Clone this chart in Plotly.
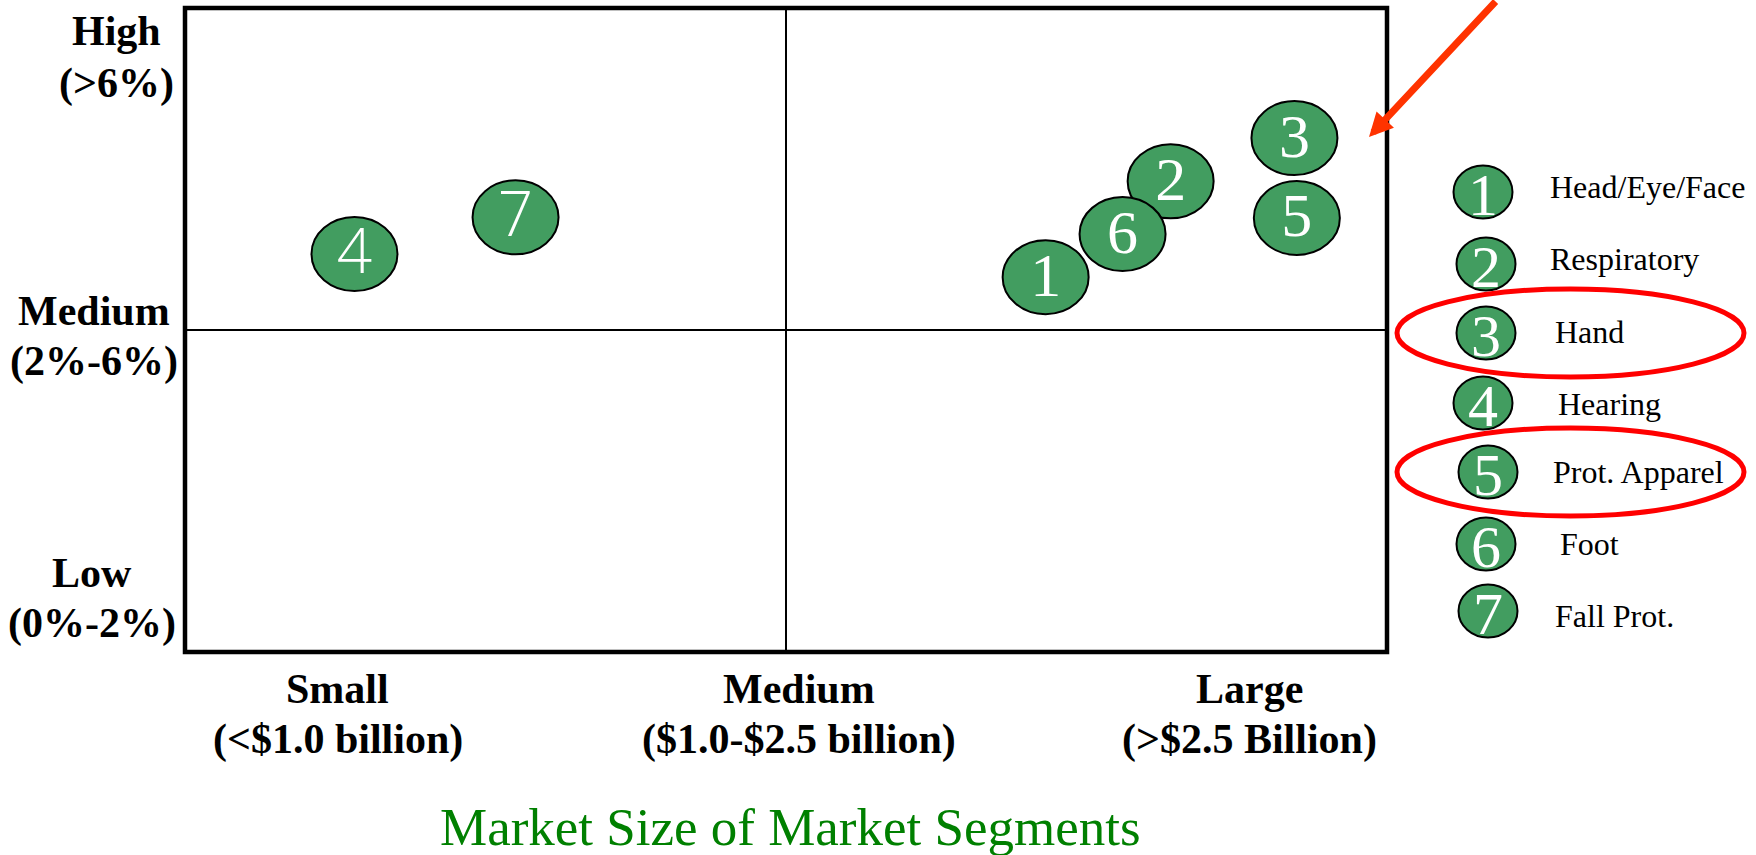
import plotly.graph_objects as go

# ---------------- data ----------------
segment_ids = ["1", "2", "3", "4", "5", "6", "7"]
segment_names = ["Head/Eye/Face", "Respiratory", "Hand", "Hearing",
                 "Prot. Apparel", "Foot", "Fall Prot."]
market_size = [0.716, 0.820, 0.923, 0.141, 0.925, 0.780, 0.275]   # 0..1 position on size scale
growth_rate = [0.582, 0.731, 0.798, 0.618, 0.674, 0.649, 0.675]   # 0..1 position on growth scale
highlighted = ["3", "5"]
sans_labels = ["4", "7"]

x_tick_vals = [0.127, 0.511, 0.886]
x_tick_line1 = ["Small", "Medium", "Large"]
x_tick_line2 = ["(<$1.0 billion)", "($1.0-$2.5 billion)", "(>$2.5 Billion)"]
y_tick_line1 = ["High", "Medium", "Low"]
y_tick_line2 = ["(>6%)", "(2%-6%)", "(0%-2%)"]
title_text = "Market Size of Market Segments"

# ---------------- layout constants ----------------
FW, FH = 1756, 855
L, T, W, H = 185, 8, 1202, 644
R, B = FW - L - W, FH - T - H
GREEN = "#429d60"
SERIF = "Liberation Serif, Times New Roman, serif"
SANS = "Open Sans, Liberation Sans, sans-serif"


def px_x(px):
    return (px - L) / W


def px_y(py):
    return (T + H - py) / H


def esc(s):
    return s.replace("&", "&amp;").replace("<", "&lt;").replace(">", "&gt;")


fig = go.Figure()

# bubble ellipses (drawn as shapes from the data arrays)
RX = 43 / W
RY = 37 / H
shapes = []
for x, y in zip(market_size, growth_rate):
    shapes.append(dict(type="circle", xref="x", yref="y", layer="below",
                       x0=x - RX, x1=x + RX, y0=y - RY, y1=y + RY,
                       fillcolor=GREEN, line=dict(color="black", width=2)))

# bubble numbers
serif_idx = [i for i, s in enumerate(segment_ids) if s not in sans_labels]
sans_idx = [i for i, s in enumerate(segment_ids) if s in sans_labels]
for idx, fam, wt in ((serif_idx, SERIF, "normal"), (sans_idx, SANS, 300)):
    fig.add_trace(go.Scatter(
        x=[market_size[i] for i in idx],
        y=[growth_rate[i] - 3 / H for i in idx],
        text=[segment_ids[i] for i in idx],
        customdata=[segment_names[i] for i in idx],
        mode="text", textposition="middle center",
        textfont=dict(family=fam, size=62, color="white", weight=wt),
        hovertemplate="%{customdata}<extra></extra>",
        showlegend=False, cliponaxis=False))

# quadrant dividers
shapes.append(dict(type="line", xref="x", yref="paper", x0=0.5, x1=0.5, y0=0, y1=1,
                   line=dict(color="black", width=2)))
shapes.append(dict(type="line", xref="paper", yref="y", x0=0, x1=1, y0=0.5, y1=0.5,
                   line=dict(color="black", width=2)))
# plot frame
shapes.append(dict(type="rect", xref="paper", yref="paper", x0=0, x1=1, y0=0, y1=1,
                   line=dict(color="black", width=4.5)))

annotations = []

# x category labels
for xv, l1, l2 in zip(x_tick_vals, x_tick_line1, x_tick_line2):
    for txt, py in ((l1, 689), (l2, 739)):
        annotations.append(dict(x=xv, xref="x", y=px_y(py), yref="paper",
                                text="<b>" + esc(txt) + "</b>", showarrow=False,
                                xanchor="center", yanchor="middle",
                                font=dict(family=SERIF, size=42, color="black")))

# y category labels
y_label_cx = [116, 94, 92]
y_label_my = [(31, 83), (311, 361), (573, 623)]
for cx, (m1, m2), l1, l2 in zip(y_label_cx, y_label_my, y_tick_line1, y_tick_line2):
    for txt, py in ((l1, m1), (l2, m2)):
        annotations.append(dict(x=px_x(cx), xref="paper", y=px_y(py), yref="paper",
                                text="<b>" + esc(txt) + "</b>", showarrow=False,
                                xanchor="center", yanchor="middle",
                                font=dict(family=SERIF, size=42, color="black")))

# title
annotations.append(dict(x=px_x(790), xref="paper", y=px_y(827), yref="paper",
                        text=title_text, showarrow=False, xanchor="center", yanchor="middle",
                        font=dict(family=SERIF, size=53, color="#008000")))

# legend (key)
leg_cx = [1483, 1486, 1486, 1483, 1488, 1486, 1488]
leg_cy = [192, 264, 333, 403, 472, 544, 611]
leg_tx = [1548, 1548, 1553, 1556, 1551, 1558, 1553]
leg_ty = [187, 259, 332, 404, 472, 544, 616]
LRX, LRY = 29.5, 26.5
for sid, name, cx, cy, tx, ty in zip(segment_ids, segment_names, leg_cx, leg_cy, leg_tx, leg_ty):
    shapes.append(dict(type="circle", xref="paper", yref="paper", layer="above",
                       x0=px_x(cx - LRX), x1=px_x(cx + LRX),
                       y0=px_y(cy + LRY), y1=px_y(cy - LRY),
                       fillcolor=GREEN, line=dict(color="black", width=2)))
    annotations.append(dict(x=px_x(cx), xref="paper", y=px_y(cy + 3), yref="paper",
                            text=sid, showarrow=False, xanchor="center", yanchor="middle",
                            font=dict(family=SERIF, size=60, color="white")))
    annotations.append(dict(x=px_x(tx), xref="paper", y=px_y(ty), yref="paper",
                            text=esc(name), showarrow=False, xanchor="left", yanchor="middle",
                            font=dict(family=SERIF, size=32, color="black")))
    if sid in highlighted:
        shapes.append(dict(type="circle", xref="paper", yref="paper", layer="above",
                           x0=px_x(1397), x1=px_x(1744),
                           y0=px_y(cy + 44), y1=px_y(cy - 44),
                           line=dict(color="#ff0000", width=5)))

# red arrow pointing to the highlighted segments
annotations.append(dict(x=px_x(1369), xref="paper", y=px_y(137), yref="paper",
                        ax=128, ay=-164, text="", showarrow=True,
                        arrowhead=2, arrowsize=0.68, arrowwidth=7,
                        arrowcolor="#ff3300", standoff=0))

fig.update_layout(
    width=FW, height=FH,
    margin=dict(l=L, r=R, t=T, b=B, pad=0),
    paper_bgcolor="white", plot_bgcolor="white",
    xaxis=dict(range=[0, 1], showgrid=False, zeroline=False, showticklabels=False,
               ticks="", showline=False, fixedrange=True),
    yaxis=dict(range=[0, 1], showgrid=False, zeroline=False, showticklabels=False,
               ticks="", showline=False, fixedrange=True),
    shapes=shapes, annotations=annotations, showlegend=False,
)

fig.write_html("out.html")
